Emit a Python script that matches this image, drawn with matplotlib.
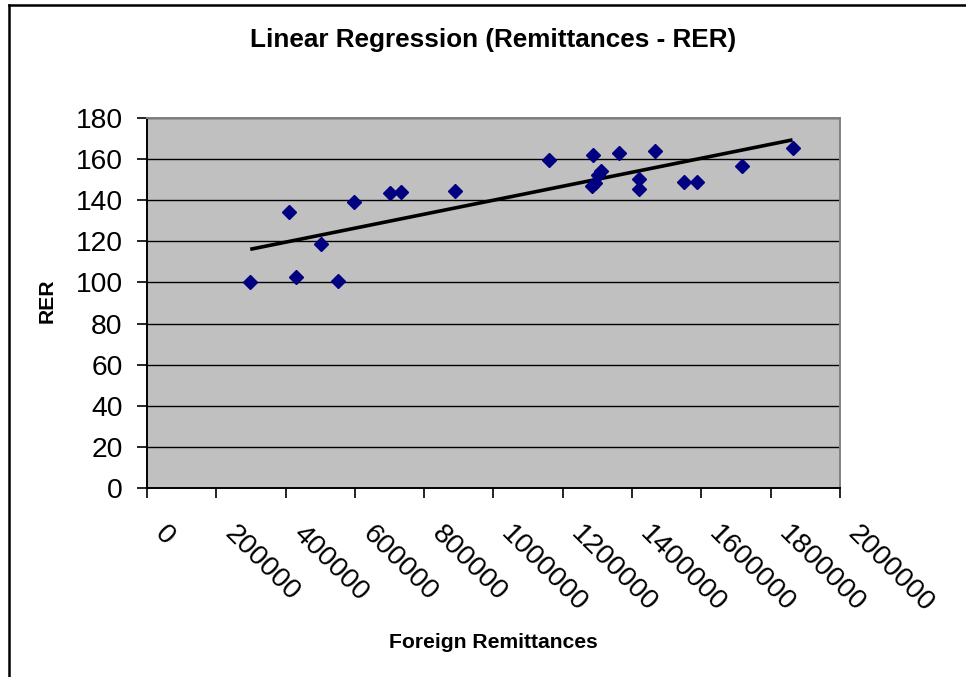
import matplotlib.pyplot as plt
import numpy as np
from matplotlib.lines import Line2D
from matplotlib.transforms import ScaledTranslation

plt.rcParams["font.family"] = ["Liberation Sans", "DejaVu Sans"]

# remittances vs real exchange rate observations
remittances = [
    298000, 409000, 429000, 502000, 550000, 597000, 701000, 733000, 890000,
    1161000, 1288000, 1283000, 1293000, 1303000, 1310000, 1361000, 1419000,
    1419000, 1466000, 1550000, 1586000, 1718000, 1863000,
]
rer = [
    100.0, 134.5, 102.8, 118.5, 100.6, 138.9, 143.3, 144.2, 144.4,
    159.4, 162.1, 147.0, 148.3, 152.2, 154.0, 162.9, 150.2,
    145.7, 163.8, 148.8, 148.8, 156.7, 165.5,
]
x_ticks = list(range(0, 2000001, 200000))
y_ticks = list(range(0, 181, 20))

x = np.array(remittances, dtype=float)
y = np.array(rer, dtype=float)
slope, intercept = np.polyfit(x, y, 1)
fit_x = np.array([x.min(), x.max()])
fit_y = slope * fit_x + intercept

fig = plt.figure(figsize=(9.66, 6.77), dpi=100)
ax = fig.add_axes([147 / 966, 1 - 488 / 677, 693 / 966, 370 / 677])
ax.set_facecolor("#c0c0c0")

ax.plot(fit_x, fit_y, color="black", linewidth=2.6, zorder=3, solid_capstyle="butt")
ax.plot(x, y, linestyle="none", marker="D", markersize=6.8,
        color="#000080", zorder=4)

ax.set_xlim(0, 2000000)
ax.set_ylim(0, 180)
ax.set_xticks(x_ticks)
ax.set_xticklabels([str(t) for t in x_ticks])
ax.set_yticks(y_ticks)
ax.yaxis.grid(True, color="black", linewidth=1.0)
ax.set_axisbelow(True)

for side in ("left", "bottom"):
    ax.spines[side].set_color("black")
    ax.spines[side].set_linewidth(1.4)
for side in ("top", "right"):
    ax.spines[side].set_color("#808080")
    ax.spines[side].set_linewidth(1.4)

ax.tick_params(axis="both", direction="out", length=7.5, width=1.2,
               color="black", labelsize=20.3)
ax.tick_params(axis="y", pad=10)
ax.tick_params(axis="x", pad=16)

shift = ScaledTranslation(21 / 100, 0, fig.dpi_scale_trans)
for lbl in ax.get_xticklabels():
    lbl.set_rotation(-45)
    lbl.set_rotation_mode("anchor")
    lbl.set_ha("left")
    lbl.set_va("top")
    lbl.set_transform(lbl.get_transform() + shift)

fig.text(0.5 * (248 + 738) / 966, 1 - 40 / 677,
         "Linear Regression (Remittances - RER)",
         ha="center", va="center", fontsize=18.8, fontweight="bold")
fig.text(493 / 966, 1 - 642 / 677, "Foreign Remittances",
         ha="center", va="center", fontsize=15.2, fontweight="bold")
fig.text(47 / 966, 1 - 301 / 677, "RER", rotation=90,
         ha="center", va="center", fontsize=15.2, fontweight="bold")

# chart frame, left and top edges
fig.add_artist(Line2D([8.5 / 966, 8.5 / 966], [0, 1 - 5 / 677],
                      color="black", linewidth=1.8))
fig.add_artist(Line2D([8.5 / 966, 1], [1 - 5 / 677, 1 - 5 / 677],
                      color="black", linewidth=1.8))

fig.savefig("out.png", dpi=100)
